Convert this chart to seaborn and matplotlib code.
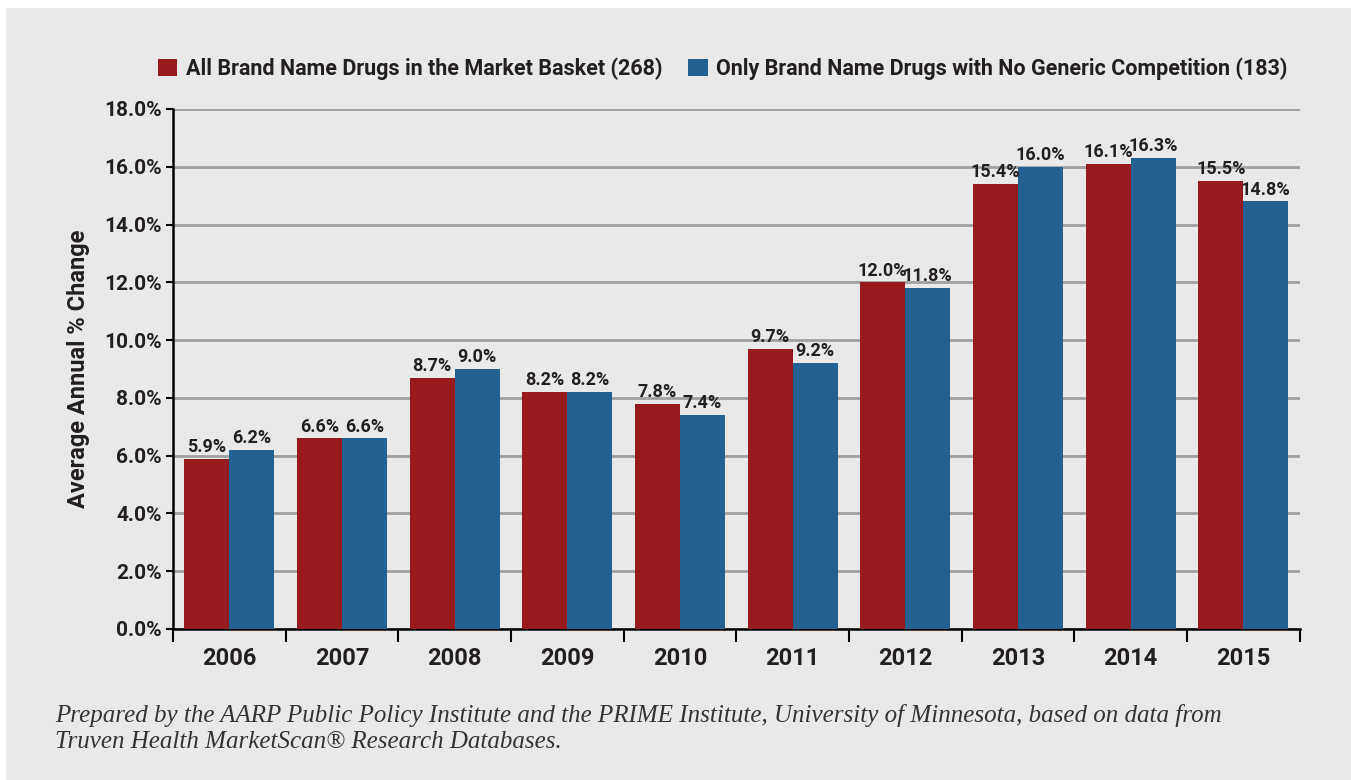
import matplotlib.pyplot as plt
import seaborn as sns
import pandas as pd
from matplotlib.patches import Rectangle

# Data
years = ['2006', '2007', '2008', '2009', '2010', '2011', '2012', '2013', '2014', '2015']
all_brand = [5.9, 6.6, 8.7, 8.2, 7.8, 9.7, 12.0, 15.4, 16.1, 15.5]
no_generic = [6.2, 6.6, 9.0, 8.2, 7.4, 9.2, 11.8, 16.0, 16.3, 14.8]
series_names = ['All Brand Name Drugs in the Market Basket (268)',
                'Only Brand Name Drugs with No Generic Competition (183)']
y_ticks = [0, 2, 4, 6, 8, 10, 12, 14, 16, 18]
note = ('Prepared by the AARP Public Policy Institute and the PRIME Institute, '
        'University of Minnesota, based on data from\n'
        'Truven Health MarketScan\u00ae Research Databases.')

df = pd.DataFrame({
    'Year': years * 2,
    'Change': all_brand + no_generic,
    'Series': [series_names[0]] * len(years) + [series_names[1]] * len(years),
})

sns.set_style('white')
plt.rcParams['font.family'] = ['Roboto', 'DejaVu Sans']
text_color = '#231f20'
colors = ['#961a1e', '#236192']

fig = plt.figure(figsize=(13.51, 7.80), dpi=100)
fig.patch.set_facecolor('white')
# grey panel behind everything
fig.patches.append(Rectangle((6 / 1351, 0), 1345 / 1351, 772 / 780,
                             transform=fig.transFigure, facecolor='#e9e9e9',
                             edgecolor='none', zorder=-10))

ax = fig.add_axes([0.128, 0.1936, 0.834, 0.6667])
ax.set_facecolor('none')

sns.barplot(data=df, x='Year', y='Change', hue='Series', palette=colors,
            width=0.8, saturation=1, linewidth=0, ax=ax, legend=True, zorder=3)

for cont in ax.containers:
    ax.bar_label(cont, fmt='%.1f%%', padding=2, fontsize=13, fontweight='bold',
                 color=text_color)

ax.set_ylim(0, 18)
ax.set_xlim(-0.5, len(years) - 0.5)
ax.set_yticks(y_ticks)
ax.set_yticklabels([f'{v:.1f}%' for v in y_ticks], fontsize=15, fontweight='bold',
                   color=text_color)
ax.set_xticklabels(years, fontsize=17, fontweight='bold', color=text_color)
ax.set_xlabel('')
ax.set_ylabel('Average Annual % Change', fontsize=17, fontweight='bold',
              color=text_color, labelpad=10)

ax.yaxis.grid(True, color='#a0a0a0', linewidth=2, zorder=0)
ax.set_axisbelow(True)
for s in ['top', 'right']:
    ax.spines[s].set_visible(False)
for s in ['left', 'bottom']:
    ax.spines[s].set_color('black')
    ax.spines[s].set_linewidth(1.8)

ax.tick_params(axis='y', length=5, width=1.5, color='black', pad=3, left=True)
ax.tick_params(axis='x', which='major', length=0, pad=13)
ax.set_xticks([i - 0.5 for i in range(len(years) + 1)], minor=True)
ax.tick_params(axis='x', which='minor', length=9, width=1.5, color='black',
               direction='out', bottom=True)

handles, labels = ax.get_legend_handles_labels()
ax.get_legend().remove()
fig.legend(handles, labels, loc='center', bbox_to_anchor=(0.535, 0.912), ncol=2,
           frameon=False, handlelength=0.9, handleheight=0.9, handletextpad=0.4,
           columnspacing=1.2, prop={'size': 15.5, 'weight': 'bold'},
           labelcolor=text_color)

fig.text(0.041, 0.066, note, fontsize=18, fontstyle='italic', family='Liberation Serif',
         color='#333333', linespacing=1.22, va='center', ha='left')

fig.savefig('out.png', dpi=100)
